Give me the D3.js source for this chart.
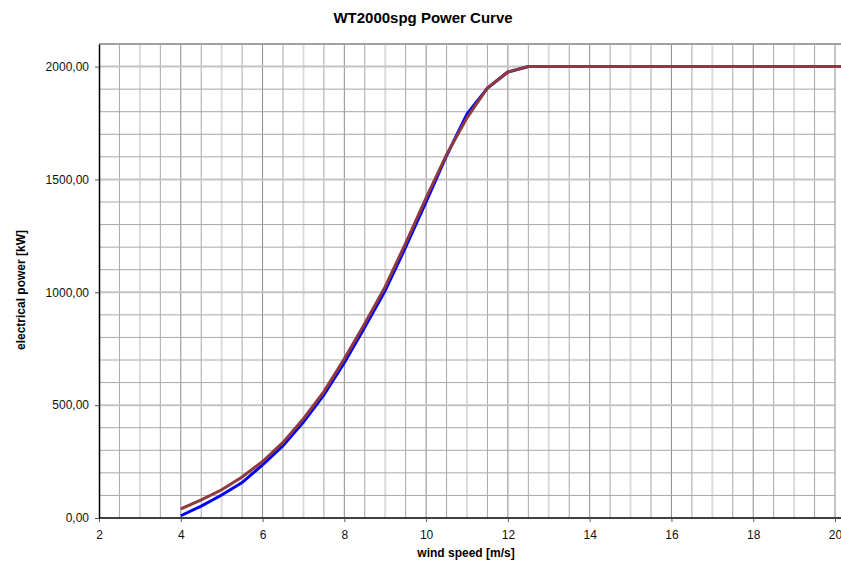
<!DOCTYPE html>
<html>
<head>
<meta charset="utf-8">
<script src="https://cdn.jsdelivr.net/npm/d3@7"></script>
<style>
    body { margin: 0; background: #fff; }
    text { font-family: "Liberation Sans", Arial, sans-serif; }
</style>
</head>
<body>
<div id="chart"></div>
<script>
// data
const windSpeed = [4, 4.5, 5, 5.5, 6, 6.5, 7, 7.5, 8, 8.5, 9, 9.5, 10, 10.5, 11, 11.5, 12, 12.5,
                   13, 14, 15, 16, 17, 18, 19, 20, 21, 22, 23, 24, 25];
const powerBlue = [10, 53, 102, 157, 235, 320, 425, 545, 688, 845, 1008, 1200, 1400, 1605, 1790, 1905, 1976, 2000,
                   2000, 2000, 2000, 2000, 2000, 2000, 2000, 2000, 2000, 2000, 2000, 2000, 2000];
const powerRed  = [40, 80, 125, 182, 250, 335, 440, 560, 705, 862, 1025, 1218, 1418, 1610, 1773, 1905, 1976, 2000,
                   2000, 2000, 2000, 2000, 2000, 2000, 2000, 2000, 2000, 2000, 2000, 2000, 2000];
const xTicks = [2, 4, 6, 8, 10, 12, 14, 16, 18, 20];
const yTicks = [0, 500, 1000, 1500, 2000];

const W = 841, H = 562;
const margin = {top: 44, right: 6, bottom: 44, left: 99};
const plotRight = 835;

const svg = d3.select("#chart").append("svg")
    .attr("width", W)
    .attr("height", H);

const x = d3.scaleLinear().domain([2, 20]).range([margin.left, plotRight]);
const y = d3.scaleLinear().domain([0, 2100]).range([H - margin.bottom, margin.top]);

// grid
const grid = svg.append("g");
d3.range(2.5, 20.01, 0.5).forEach(v => {
    let isEven = Math.abs(v % 2) < 1e-9;
    let isInt = Math.abs(v % 1) < 1e-9;
    grid.append("line")
        .attr("x1", x(v)).attr("x2", x(v))
        .attr("y1", y(2100)).attr("y2", y(0))
        .attr("stroke", isEven ? "#8c8c8c" : (isInt ? "#dcdcdc" : "#a8a8a8"))
        .attr("stroke-width", isInt && !isEven ? 2 : 1);
});
d3.range(100, 2001, 100).forEach(v => {
    let major = v % 500 === 0;
    grid.append("line")
        .attr("x1", margin.left).attr("x2", plotRight)
        .attr("y1", y(v)).attr("y2", y(v))
        .attr("stroke", major ? "#c4c4c4" : "#a8a8a8")
        .attr("stroke-width", major ? 2 : 1);
});

// frame
svg.append("line")
    .attr("x1", margin.left).attr("x2", W)
    .attr("y1", y(2100)).attr("y2", y(2100))
    .attr("stroke", "#a0a0a0").attr("stroke-width", 2);

// lines
const line = (vals) => d3.line()
    .x((d, i) => x(windSpeed[i]))
    .y(d => y(d))(vals);

svg.append("path")
    .attr("d", line(powerBlue))
    .attr("fill", "none")
    .attr("stroke", "#0000ff")
    .attr("stroke-width", 3);

svg.append("path")
    .attr("d", line(powerRed))
    .attr("fill", "none")
    .attr("stroke", "#8e3a3e")
    .attr("stroke-width", 3);

// axes
const xAxis = svg.append("g")
    .attr("transform", `translate(0,${y(0)})`)
    .call(d3.axisBottom(x).tickValues(xTicks).tickSize(4).tickSizeOuter(0).tickPadding(8)
        .tickFormat(d3.format("d")));
const yAxis = svg.append("g")
    .attr("transform", `translate(${margin.left},0)`)
    .call(d3.axisLeft(y).tickValues(yTicks).tickSize(4).tickSizeOuter(0).tickPadding(6)
        .tickFormat(d => d3.format(".2f")(d).replace(".", ",")));

[xAxis, yAxis].forEach(a => {
    a.select(".domain").attr("stroke", "#000").attr("stroke-width", 1.5);
    a.selectAll(".tick line").attr("stroke", "#555");
    a.selectAll(".tick text")
        .attr("font-family", "Liberation Sans, Arial, sans-serif")
        .attr("font-size", 12)
        .attr("fill", "#111");
});
xAxis.select(".domain").attr("d", `M${margin.left},0H${W}`);

// titles
svg.append("text")
    .attr("x", 423).attr("y", 23)
    .attr("text-anchor", "middle")
    .attr("font-size", 15).attr("font-weight", "bold")
    .text("WT2000spg Power Curve");

svg.append("text")
    .attr("x", 466).attr("y", 557)
    .attr("text-anchor", "middle")
    .attr("font-size", 12).attr("font-weight", "bold")
    .text("wind speed [m/s]");

svg.append("text")
    .attr("transform", "translate(25,290) rotate(-90)")
    .attr("text-anchor", "middle")
    .attr("font-size", 12).attr("font-weight", "bold")
    .text("electrical power [kW]");
</script>
</body>
</html>
